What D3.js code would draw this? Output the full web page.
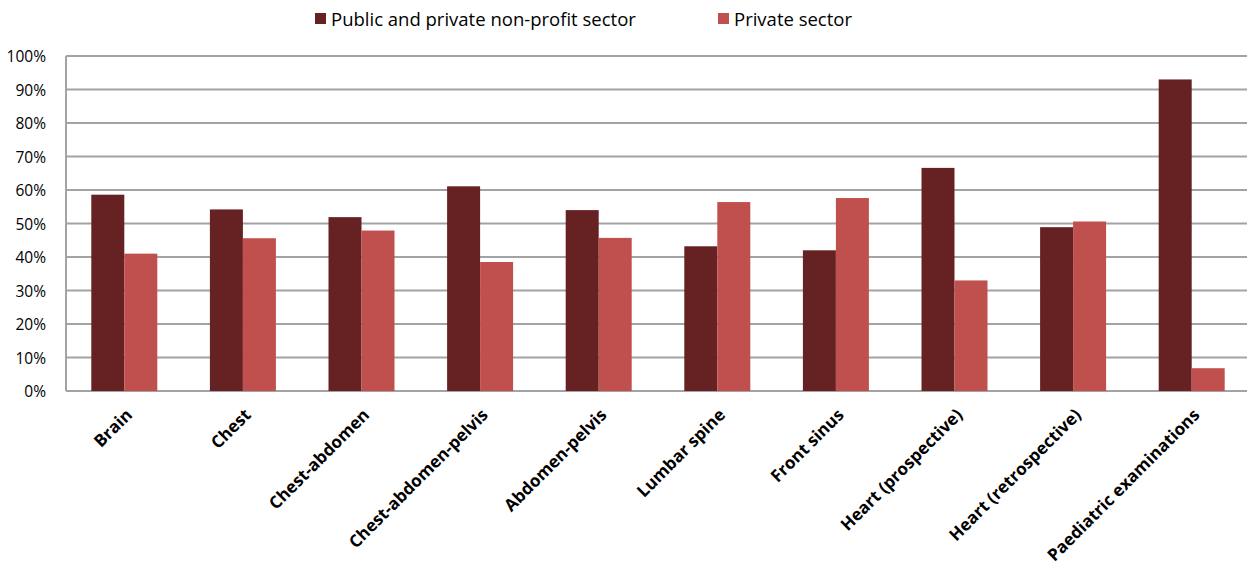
<!DOCTYPE html>
<html>
<head>
<meta charset="utf-8">
<script src="https://cdn.jsdelivr.net/npm/d3@7"></script>
<style>
  body { margin: 0; background: #fff; }
  svg text { font-family: "Open Sans", sans-serif; fill: #000; }
</style>
</head>
<body>
<svg id="chart" width="1250" height="567"></svg>
<script>
// categories and the two series (share of examinations)
const categories = ["Brain", "Chest", "Chest-abdomen", "Chest-abdomen-pelvis", "Abdomen-pelvis",
  "Lumbar spine", "Front sinus", "Heart (prospective)", "Heart (retrospective)", "Paediatric examinations"];
const seriesNames = ["Public and private non-profit sector", "Private sector"];
const publicValues = [0.586, 0.542, 0.519, 0.611, 0.540, 0.432, 0.420, 0.666, 0.489, 0.930];
const privateValues = [0.410, 0.456, 0.479, 0.385, 0.457, 0.564, 0.576, 0.330, 0.506, 0.068];
const yTicks = [0, 0.1, 0.2, 0.3, 0.4, 0.5, 0.6, 0.7, 0.8, 0.9, 1.0];
const colors = ["#662222", "#c0504d"];

const svg = d3.select("#chart");
const width = 1250, height = 567;
const plotLeft = 66, plotRight = 1247, plotTop = 56, plotBottom = 391;

const x = d3.scaleBand().domain(categories).range([65, 1251]);
const xSub = d3.scaleBand().domain([0, 1]).range([0, 66]);
const y = d3.scaleLinear().domain([0, 1]).range([plotBottom, plotTop]);

// gridlines
svg.append("g")
  .selectAll("line")
  .data(yTicks)
  .enter().append("line")
  .attr("x1", plotLeft)
  .attr("x2", plotRight)
  .attr("y1", d => y(d))
  .attr("y2", d => y(d))
  .attr("stroke", "#a3a3a3")
  .attr("stroke-width", 2);

// left axis line
svg.append("line")
  .attr("x1", plotLeft).attr("x2", plotLeft)
  .attr("y1", y(1)).attr("y2", y(0))
  .attr("stroke", "#a3a3a3").attr("stroke-width", 2);

// y labels
svg.append("g")
  .selectAll("text")
  .data(yTicks)
  .enter().append("text")
  .attr("x", 46)
  .attr("y", d => y(d) + 6)
  .attr("text-anchor", "end")
  .style("font-size", "15.5px")
  .text(d => d3.format(".0%")(d));

// bars
const rows = categories.map((c, i) => ({ cat: c, vals: [publicValues[i], privateValues[i]] }));
const groups = svg.append("g")
  .selectAll("g")
  .data(rows)
  .enter().append("g")
  .attr("transform", d => `translate(${x(d.cat) + (x.bandwidth() - 66) / 2},0)`);

groups.selectAll("rect")
  .data(d => d.vals.map((v, k) => ({ v, k })))
  .enter().append("rect")
  .attr("x", d => xSub(d.k))
  .attr("width", xSub.bandwidth())
  .attr("y", d => y(d.v))
  .attr("height", d => y(0) - y(d.v))
  .attr("fill", d => colors[d.k]);

// x labels
svg.append("g")
  .selectAll("text")
  .data(categories)
  .enter().append("text")
  .attr("transform", d => `translate(${x(d) + x.bandwidth() / 2 + 9},${y(0) + 25}) rotate(-45)`)
  .attr("text-anchor", "end")
  .style("font-size", "17px")
  .style("font-weight", "bold")
  .text(d => d);

// legend
const legendX = [315, 718];
const legend = svg.append("g")
  .selectAll("g")
  .data(seriesNames)
  .enter().append("g")
  .attr("transform", (d, i) => `translate(${legendX[i]},13)`);
legend.append("rect")
  .attr("width", 11).attr("height", 11)
  .attr("fill", (d, i) => colors[i]);
legend.append("text")
  .attr("x", 16).attr("y", 13)
  .style("font-size", "18.5px")
  .text(d => d);
</script>
</body>
</html>
